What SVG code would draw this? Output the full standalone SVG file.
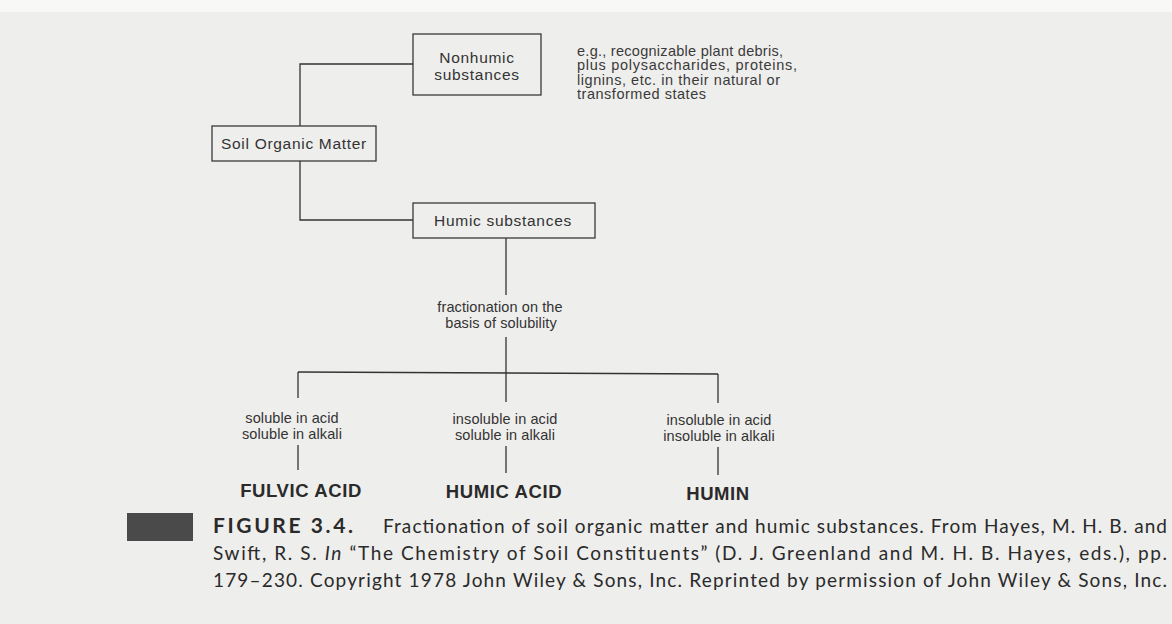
<svg xmlns="http://www.w3.org/2000/svg" width="1172" height="624" viewBox="0 0 1172 624">
<style>
.bg{fill:#eeeeec}
.box{fill:none;stroke:#3a3a3a;stroke-width:1.3}
.ln{fill:none;stroke:#333;stroke-width:1.3}
.t{font-family:"Liberation Sans",Arial,sans-serif;fill:#333;text-anchor:middle}
.node{font-size:15.5px;letter-spacing:0.7px}
.note{font-size:14.5px;fill:#3a3a3a;text-anchor:start}
.lab{font-size:14.5px;letter-spacing:0.1px}
.prod{font-size:18.5px;font-weight:bold;letter-spacing:0.6px;fill:#2a2a2a}
.cap{font-family:Lato,"Open Sans",sans-serif;fill:#2a2a2a;font-size:19px}
.capb{font-family:Lato,"Open Sans",sans-serif;fill:#2a2a2a;font-size:21px;font-weight:bold}
</style>
<rect class="bg" x="0" y="0" width="1172" height="624"/>
<rect x="0" y="0" width="1172" height="12" fill="#f8f8f7"/>

<g id="connectors">
<path class="ln" d="M413,64 H300 V126"/>
<path class="ln" d="M300,161 V220 H413"/>
<path class="ln" d="M506,238 V295"/>
<path class="ln" d="M506,337 V373"/>
<path class="ln" d="M298,372 L718,374"/>
<path class="ln" d="M298,372 V398"/>
<path class="ln" d="M506,373 V402"/>
<path class="ln" d="M718,374 V403"/>
<path class="ln" d="M298,445 V470"/>
<path class="ln" d="M506,446 V473"/>
<path class="ln" d="M718,447 V475"/>
</g>

<g id="soil-organic-matter">
<rect class="box" x="212" y="126" width="164" height="35"/>
<text class="t node" x="294" y="149">Soil Organic Matter</text>
</g>

<g id="nonhumic">
<rect class="box" x="413" y="34" width="128" height="61"/>
<text class="t node" x="477" y="63">Nonhumic</text>
<text class="t node" x="477" y="80">substances</text>
</g>

<g id="nonhumic-note">
<text class="t note" x="577" y="56" textLength="206" lengthAdjust="spacing">e.g., recognizable plant debris,</text>
<text class="t note" x="577" y="70" textLength="220" lengthAdjust="spacing">plus polysaccharides, proteins,</text>
<text class="t note" x="577" y="84.5" textLength="203" lengthAdjust="spacing">lignins, etc. in their natural or</text>
<text class="t note" x="577" y="99" textLength="129" lengthAdjust="spacing">transformed states</text>
</g>

<g id="humic-substances">
<rect class="box" x="413" y="203" width="182" height="35"/>
<text class="t node" x="503" y="226">Humic substances</text>
</g>

<g id="fractionation">
<text class="t lab" x="500" y="312">fractionation on the</text>
<text class="t lab" x="501" y="328">basis of solubility</text>
</g>

<g id="fulvic-acid">
<text class="t lab" x="292" y="423">soluble in acid</text>
<text class="t lab" x="292" y="439">soluble in alkali</text>
<text class="t prod" x="301" y="497">FULVIC ACID</text>
</g>

<g id="humic-acid">
<text class="t lab" x="505" y="424">insoluble in acid</text>
<text class="t lab" x="505" y="440">soluble in alkali</text>
<text class="t prod" x="504" y="498">HUMIC ACID</text>
</g>

<g id="humin">
<text class="t lab" x="719" y="425">insoluble in acid</text>
<text class="t lab" x="719" y="441">insoluble in alkali</text>
<text class="t prod" x="718" y="500">HUMIN</text>
</g>

<g id="caption">
<rect x="127" y="513" width="66" height="28" fill="#4a4a4a"/>
<text class="capb" x="213" y="533" textLength="140" lengthAdjust="spacing">FIGURE 3.4.</text>
<text class="cap" x="383" y="533" textLength="784" lengthAdjust="spacing">Fractionation of soil organic matter and humic substances. From Hayes, M. H. B. and</text>
<text class="cap" x="213" y="560" textLength="954" lengthAdjust="spacing">Swift, R. S. <tspan font-style="italic">In</tspan> “The Chemistry of Soil Constituents” (D. J. Greenland and M. H. B. Hayes, eds.), pp.</text>
<text class="cap" x="213" y="587" textLength="954" lengthAdjust="spacing">179–230. Copyright 1978 John Wiley &amp; Sons, Inc. Reprinted by permission of John Wiley &amp; Sons, Inc.</text>
</g>
</svg>
